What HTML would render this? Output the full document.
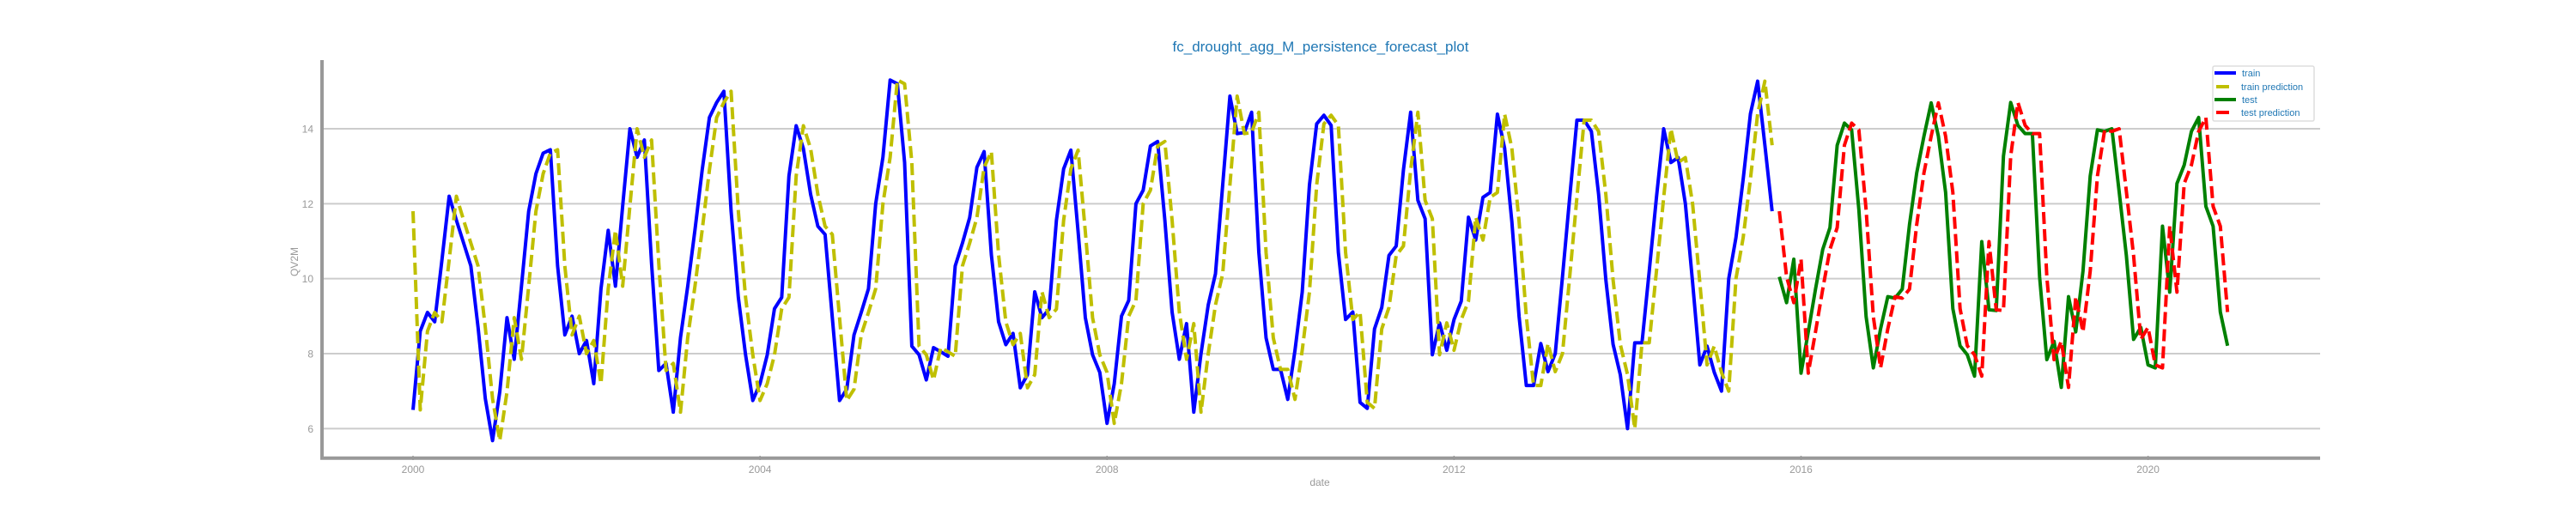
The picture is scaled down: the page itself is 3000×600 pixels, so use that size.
<!DOCTYPE html>
<html><head><meta charset="utf-8"><style>
html,body{margin:0;padding:0;background:#fff;}
svg{display:block;font-family:"Liberation Sans",sans-serif;}
</style></head><body>
<svg id="chart" width="3000" height="600" viewBox="0 0 3000 600" xmlns="http://www.w3.org/2000/svg">
<text x="1538" y="60" text-anchor="middle" font-size="17" fill="#1f77b4">fc_drought_agg_M_persistence_forecast_plot</text>
<g id="grid"></g>
<g id="series"></g>
<line x1="375" y1="70" x2="375" y2="535.5" stroke="#999" stroke-width="4"/>
<line x1="373" y1="533.7" x2="2702" y2="533.7" stroke="#999" stroke-width="4"/>
<g id="ticks"></g>
<text x="1537" y="566" text-anchor="middle" font-size="12" fill="#999">date</text>
<text x="0" y="0" transform="translate(347,305) rotate(-90)" text-anchor="middle" font-size="12" fill="#999">QV2M</text>
<g>
<rect x="2577" y="77" width="118" height="64" rx="2" fill="#fff" stroke="#ddd" stroke-width="1.5"/>
<line x1="2579" y1="85" x2="2604" y2="85" stroke="#0000ff" stroke-width="4"/>
<text x="2611" y="89" font-size="11" fill="#1f77b4">train</text>
<line x1="2581" y1="101" x2="2596" y2="101" stroke="#bfbf00" stroke-width="4"/>
<text x="2610" y="105" font-size="11" fill="#1f77b4">train prediction</text>
<line x1="2579" y1="116" x2="2604" y2="116" stroke="#008000" stroke-width="4"/>
<text x="2611" y="120" font-size="11" fill="#1f77b4">test</text>
<line x1="2581" y1="131" x2="2596" y2="131" stroke="#ff0000" stroke-width="4"/>
<text x="2610" y="135" font-size="11" fill="#1f77b4">test prediction</text>
</g>
</svg>
<script>
const trainStart = [2000, 1];
const testStart = [2015, 10];
const xTickLabels = ["2000", "2004", "2008", "2012", "2016", "2020"];
const yTickLabels = ["6", "8", "10", "12", "14"];
const train = [
6.5,8.6,9.1,8.85,10.5,12.2,11.56,10.95,10.34,8.7,6.8,5.68,
6.98,8.96,7.85,9.8,11.8,12.8,13.35,13.44,10.34,8.5,9.0,8.0,
8.35,7.2,9.73,11.29,9.8,11.94,14.0,13.24,13.7,10.4,7.55,7.74,
6.44,8.43,9.8,11.3,12.9,14.3,14.7,15.0,11.8,9.5,7.97,6.75,
7.2,7.97,9.2,9.5,12.74,14.08,13.47,12.25,11.4,11.18,8.96,6.75,
7.05,8.5,9.1,9.73,12.0,13.24,15.3,15.2,13.1,8.2,7.97,7.3,
8.16,8.05,7.93,10.34,10.95,11.63,12.97,13.39,10.64,8.85,8.24,8.54,
7.09,7.44,9.65,8.96,9.19,11.56,12.93,13.43,11.25,8.96,7.97,7.5,
6.14,7.2,9.0,9.42,12.0,12.36,13.54,13.66,11.56,9.11,7.85,8.8,
6.44,8.0,9.3,10.13,12.5,14.87,13.87,13.9,14.44,10.7,8.42,7.58,
7.58,6.78,8.09,9.64,12.5,14.13,14.36,14.09,10.7,8.91,9.11,6.7,
6.54,8.66,9.23,10.62,10.87,12.9,14.44,12.09,11.6,7.97,8.82,8.09,
8.91,9.4,11.64,11.03,12.17,12.3,14.39,13.48,11.52,8.99,7.15,7.15,
8.27,7.52,8.0,10.05,12.17,14.23,14.23,13.93,12.25,9.97,8.25,7.44,
6.0,8.29,8.29,10.2,12.17,14.0,13.1,13.23,12.0,9.9,7.7,8.2,
7.5,7.0,10.0,11.1,12.66,14.4,15.27,13.56,11.8];
const trainPred = [
11.8,6.5,8.6,9.1,8.85,10.5,12.2,11.56,10.95,10.34,8.7,6.8,
5.68,6.98,8.96,7.85,9.8,11.8,12.8,13.35,13.44,10.34,8.5,9.0,
8.0,8.35,7.2,9.73,11.29,9.8,11.94,14.0,13.24,13.7,10.4,7.55,
7.74,6.44,8.43,9.8,11.3,12.9,14.3,14.7,15.0,11.8,9.5,7.97,
6.75,7.2,7.97,9.2,9.5,12.74,14.08,13.47,12.25,11.4,11.18,8.96,
6.75,7.05,8.5,9.1,9.73,12.0,13.24,15.3,15.2,13.1,8.2,7.97,
7.3,8.16,8.05,7.93,10.34,10.95,11.63,12.97,13.39,10.64,8.85,8.24,
8.54,7.09,7.44,9.65,8.96,9.19,11.56,12.93,13.43,11.25,8.96,7.97,
7.5,6.14,7.2,9.0,9.42,12.0,12.36,13.54,13.66,11.56,9.11,7.85,
8.8,6.44,8.0,9.3,10.13,12.5,14.87,13.87,13.9,14.44,10.7,8.42,
7.58,7.58,6.78,8.09,9.64,12.5,14.13,14.36,14.09,10.7,8.91,9.11,
6.7,6.54,8.66,9.23,10.62,10.87,12.9,14.44,12.09,11.6,7.97,8.82,
8.09,8.91,9.4,11.64,11.03,12.17,12.3,14.39,13.48,11.52,8.99,7.15,
7.15,8.27,7.52,8.0,10.05,12.17,14.23,14.23,13.93,12.25,9.97,8.25,
7.44,6.0,8.29,8.29,10.2,12.17,14.0,13.1,13.23,12.0,9.9,7.7,
8.2,7.5,7.0,10.0,11.1,12.66,14.4,15.27,13.56];
const test = [
10.05,9.36,10.52,
7.48,8.58,9.72,10.78,11.36,13.56,14.15,13.97,11.84,8.99,7.62,8.66,
9.52,9.48,9.72,11.44,12.82,13.8,14.69,13.8,12.3,9.2,8.21,7.97,
7.4,10.99,9.17,9.15,13.27,14.7,14.09,13.87,13.87,10.05,7.84,8.33,
7.1,9.52,8.58,10.2,12.74,13.97,13.93,14.0,12.33,10.62,8.38,8.7,
7.7,7.62,11.4,9.64,12.54,13.03,13.93,14.3,11.93,11.4,9.11,8.21];
const testPred = [
11.8,10.05,9.36,
10.52,7.48,8.58,9.72,10.78,11.36,13.56,14.15,13.97,11.84,8.99,7.62,
8.66,9.52,9.48,9.72,11.44,12.82,13.8,14.69,13.8,12.3,9.2,8.21,
7.97,7.4,10.99,9.17,9.15,13.27,14.7,14.09,13.87,13.87,10.05,7.84,
8.33,7.1,9.52,8.58,10.2,12.74,13.97,13.93,14.0,12.33,10.62,8.38,
8.7,7.7,7.62,11.4,9.64,12.54,13.03,13.93,14.3,11.93,11.4,9.11];

const NS = "http://www.w3.org/2000/svg";
function xScale(t){ return 481 + (t - 2000) * 101.03; }
function yScale(v){ return 150 + (14 - v) * 43.67; }
function monthT(start, i){ return start[0] + (start[1] - 1 + i) / 12; }

const grid = document.getElementById('grid');
const ticks = document.getElementById('ticks');
yTickLabels.forEach(function(lab){
  const v = parseFloat(lab);
  const y = yScale(v);
  const gl = document.createElementNS(NS, 'line');
  gl.setAttribute('x1', 377); gl.setAttribute('x2', 2702);
  gl.setAttribute('y1', y); gl.setAttribute('y2', y);
  gl.setAttribute('stroke', '#cccccc'); gl.setAttribute('stroke-width', '2');
  
  
  grid.appendChild(gl);
  const tx = document.createElementNS(NS, 'text');
  tx.setAttribute('x', 365); tx.setAttribute('y', y + 4.5);
  tx.setAttribute('text-anchor', 'end'); tx.setAttribute('font-size', '12');
  tx.setAttribute('fill', '#999');
  
  
  tx.textContent = lab;
  ticks.appendChild(tx);
});
xTickLabels.forEach(function(lab){
  const x = xScale(parseFloat(lab));
  const tk = document.createElementNS(NS, 'line');
  tk.setAttribute('x1', x); tk.setAttribute('x2', x);
  tk.setAttribute('y1', 531); tk.setAttribute('y2', 536);
  tk.setAttribute('stroke', '#999'); tk.setAttribute('stroke-width', '1.5');
  
  
  ticks.appendChild(tk);
  const tx = document.createElementNS(NS, 'text');
  tx.setAttribute('x', x); tx.setAttribute('y', 551);
  tx.setAttribute('text-anchor', 'middle'); tx.setAttribute('font-size', '12');
  tx.setAttribute('fill', '#999');
  
  
  tx.textContent = lab;
  ticks.appendChild(tx);
});

const series = document.getElementById('series');
function drawSeries(values, start, color, dashed, name){
  const pts = values.map(function(v, i){ return xScale(monthT(start, i)).toFixed(2) + ',' + yScale(v).toFixed(2); });
  const pl = document.createElementNS(NS, 'polyline');
  pl.setAttribute('points', pts.join(' '));
  pl.setAttribute('fill', 'none');
  pl.setAttribute('stroke', color);
  pl.setAttribute('stroke-width', '4');
  pl.setAttribute('stroke-linejoin', 'round');
  if (dashed) pl.setAttribute('stroke-dasharray', '14 6');
  
  
  series.appendChild(pl);
}
drawSeries(train, trainStart, '#0000ff', false, 'train-line');
drawSeries(trainPred, trainStart, '#bfbf00', true, 'train-prediction-line');
drawSeries(test, testStart, '#008000', false, 'test-line');
drawSeries(testPred, testStart, '#ff0000', true, 'test-prediction-line');
</script>
</body></html>
